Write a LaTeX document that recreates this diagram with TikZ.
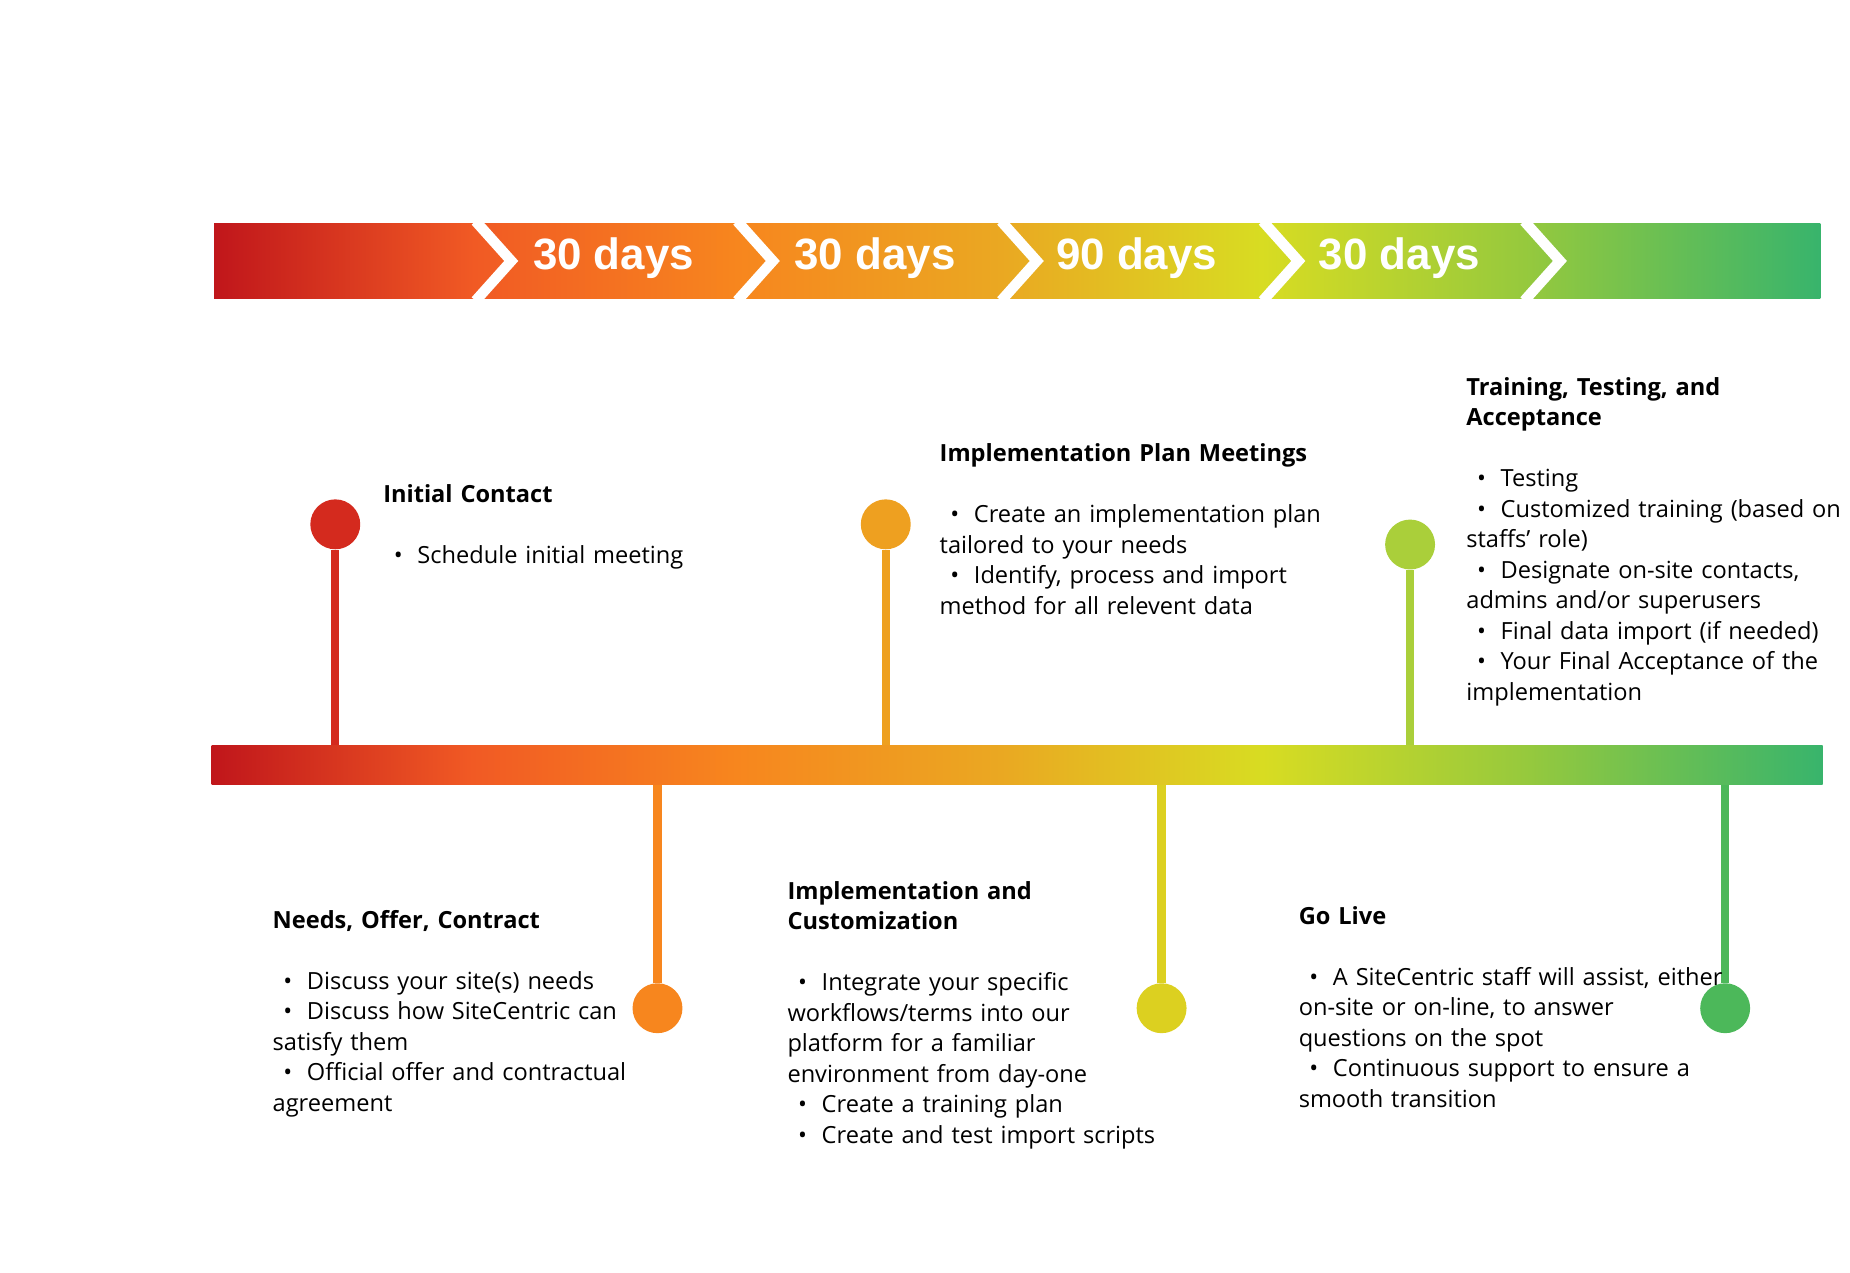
\documentclass[tikz,border=0pt]{standalone}
\usepackage{fontspec}
\setmainfont{Open Sans}
\newfontfamily\dayfont{Liberation Sans}
\definecolor{tl0}{HTML}{C0161B}
\definecolor{tl1}{HTML}{F15A24}
\definecolor{tl2}{HTML}{F7861E}
\definecolor{tl3}{HTML}{EAA822}
\definecolor{tl4}{HTML}{D8DC22}
\definecolor{tl5}{HTML}{96C93D}
\definecolor{tl6}{HTML}{38B46C}
\definecolor{pc1}{RGB}{212,42,30}
\definecolor{pc2}{RGB}{247,134,30}
\definecolor{pc3}{RGB}{238,160,32}
\definecolor{pc4}{RGB}{220,208,32}
\definecolor{pc5}{RGB}{170,207,58}
\definecolor{pc6}{RGB}{76,184,90}
\pgfdeclarehorizontalshading{timeline}{100bp}{color(0bp)=(tl0); color(25bp)=(tl0);
  color(33.1bp)=(tl1); color(41.3bp)=(tl2); color(49.5bp)=(tl3); color(57.6bp)=(tl4);
  color(65.8bp)=(tl5); color(75bp)=(tl6); color(100bp)=(tl6)}
\newcommand\itm[1]{\par\hangindent=1.45em\hangafter=1\hspace*{0.45em}\makebox[1em][l]{\textbullet}#1}
\begin{document}
\begin{tikzpicture}[x=0.02cm,y=-0.02cm,
    days/.style = {text=white, font=\dayfont\bfseries\fontsize{21}{24}\selectfont},
    pin/.style = {line width=4},
    dot/.style = {circle, minimum size=0.84cm, inner sep=0},
    info/.style = {anchor=north west, inner sep=0, align=left, text width=7.5cm,
                   font=\fontsize{11.3}{14.6}\selectfont}
  ]
  \useasboundingbox (0,0) rectangle (1556,1070);
  % top bar with chevrons
  \shade[shading=timeline] (180,188) rectangle (1531,251);
  \foreach \x in {400,620,842,1062,1282}
    \draw[white, line width=5, miter limit=10] (\x,186) -- (\x+30,219.5) -- (\x,253);
  \node[days] (d1) at (516,217) {30 days};
  \node[days] (d2) at (736,217) {30 days};
  \node[days] (d3) at (956,217) {90 days};
  \node[days] (d4) at (1177,217) {30 days};
  % bottom bar
  \shade[shading=timeline] (178,627) rectangle (1533,660);
  \coordinate (b1) at (282,627);
  \coordinate (b2) at (553,660);
  \coordinate (b3) at (745,627);
  \coordinate (b4) at (977,660);
  \coordinate (b5) at (1186,627);
  \coordinate (b6) at (1451,660);
  % pins
  \node[dot, fill=pc1] (p1) at (282,441) {};
  \node[dot, fill=pc2] (p2) at (553,848) {};
  \node[dot, fill=pc3] (p3) at (745,441) {};
  \node[dot, fill=pc4] (p4) at (977,848) {};
  \node[dot, fill=pc5] (p5) at (1186,458) {};
  \node[dot, fill=pc6] (p6) at (1451,848) {};
  \draw[pin, pc1] (p1) -- (b1);
  \draw[pin, pc2] (p2) -- (b2);
  \draw[pin, pc3] (p3) -- (b3);
  \draw[pin, pc4] (p4) -- (b4);
  \draw[pin, pc5] (p5) -- (b5);
  \draw[pin, pc6] (p6) -- (b6);
  % texts
  \node[info] (t1) at (322,407) {\textbf{Initial Contact}\par\vspace{\baselineskip}
    \itm{Schedule initial meeting}};
  \node[info] (t2) at (229,765) {\textbf{Needs, Offer, Contract}\par\vspace{\baselineskip}
    \itm{Discuss your site(s) needs}
    \itm{Discuss how SiteCentric can\\satisfy them}
    \itm{Official offer and contractual\\agreement}};
  \node[info] (t3) at (790,373) {\textbf{Implementation Plan Meetings}\par\vspace{\baselineskip}
    \itm{Create an implementation plan\\tailored to your needs}
    \itm{Identify, process and import\\method for all relevent data}};
  \node[info] (t4) at (662,741) {\textbf{Implementation and}\\\textbf{Customization}\par\vspace{\baselineskip}
    \itm{Integrate your specific\\workflows/terms into our\\platform for a familiar\\environment from day-one}
    \itm{Create a training plan}
    \itm{Create and test import scripts}};
  \node[info] (t5) at (1233,317) {\textbf{Training, Testing, and}\\\textbf{Acceptance}\par\vspace{\baselineskip}
    \itm{Testing}
    \itm{Customized training (based on\\staffs’ role)}
    \itm{Designate on-site contacts,\\admins and/or superusers}
    \itm{Final data import (if needed)}
    \itm{Your Final Acceptance of the\\implementation}};
  \node[info] (t6) at (1092,762) {\textbf{Go Live}\par\vspace{\baselineskip}
    \itm{A SiteCentric staff will assist, either\\on-site or on-line, to answer\\questions on the spot}
    \itm{Continuous support to ensure a\\smooth transition}};
\end{tikzpicture}
\end{document}
